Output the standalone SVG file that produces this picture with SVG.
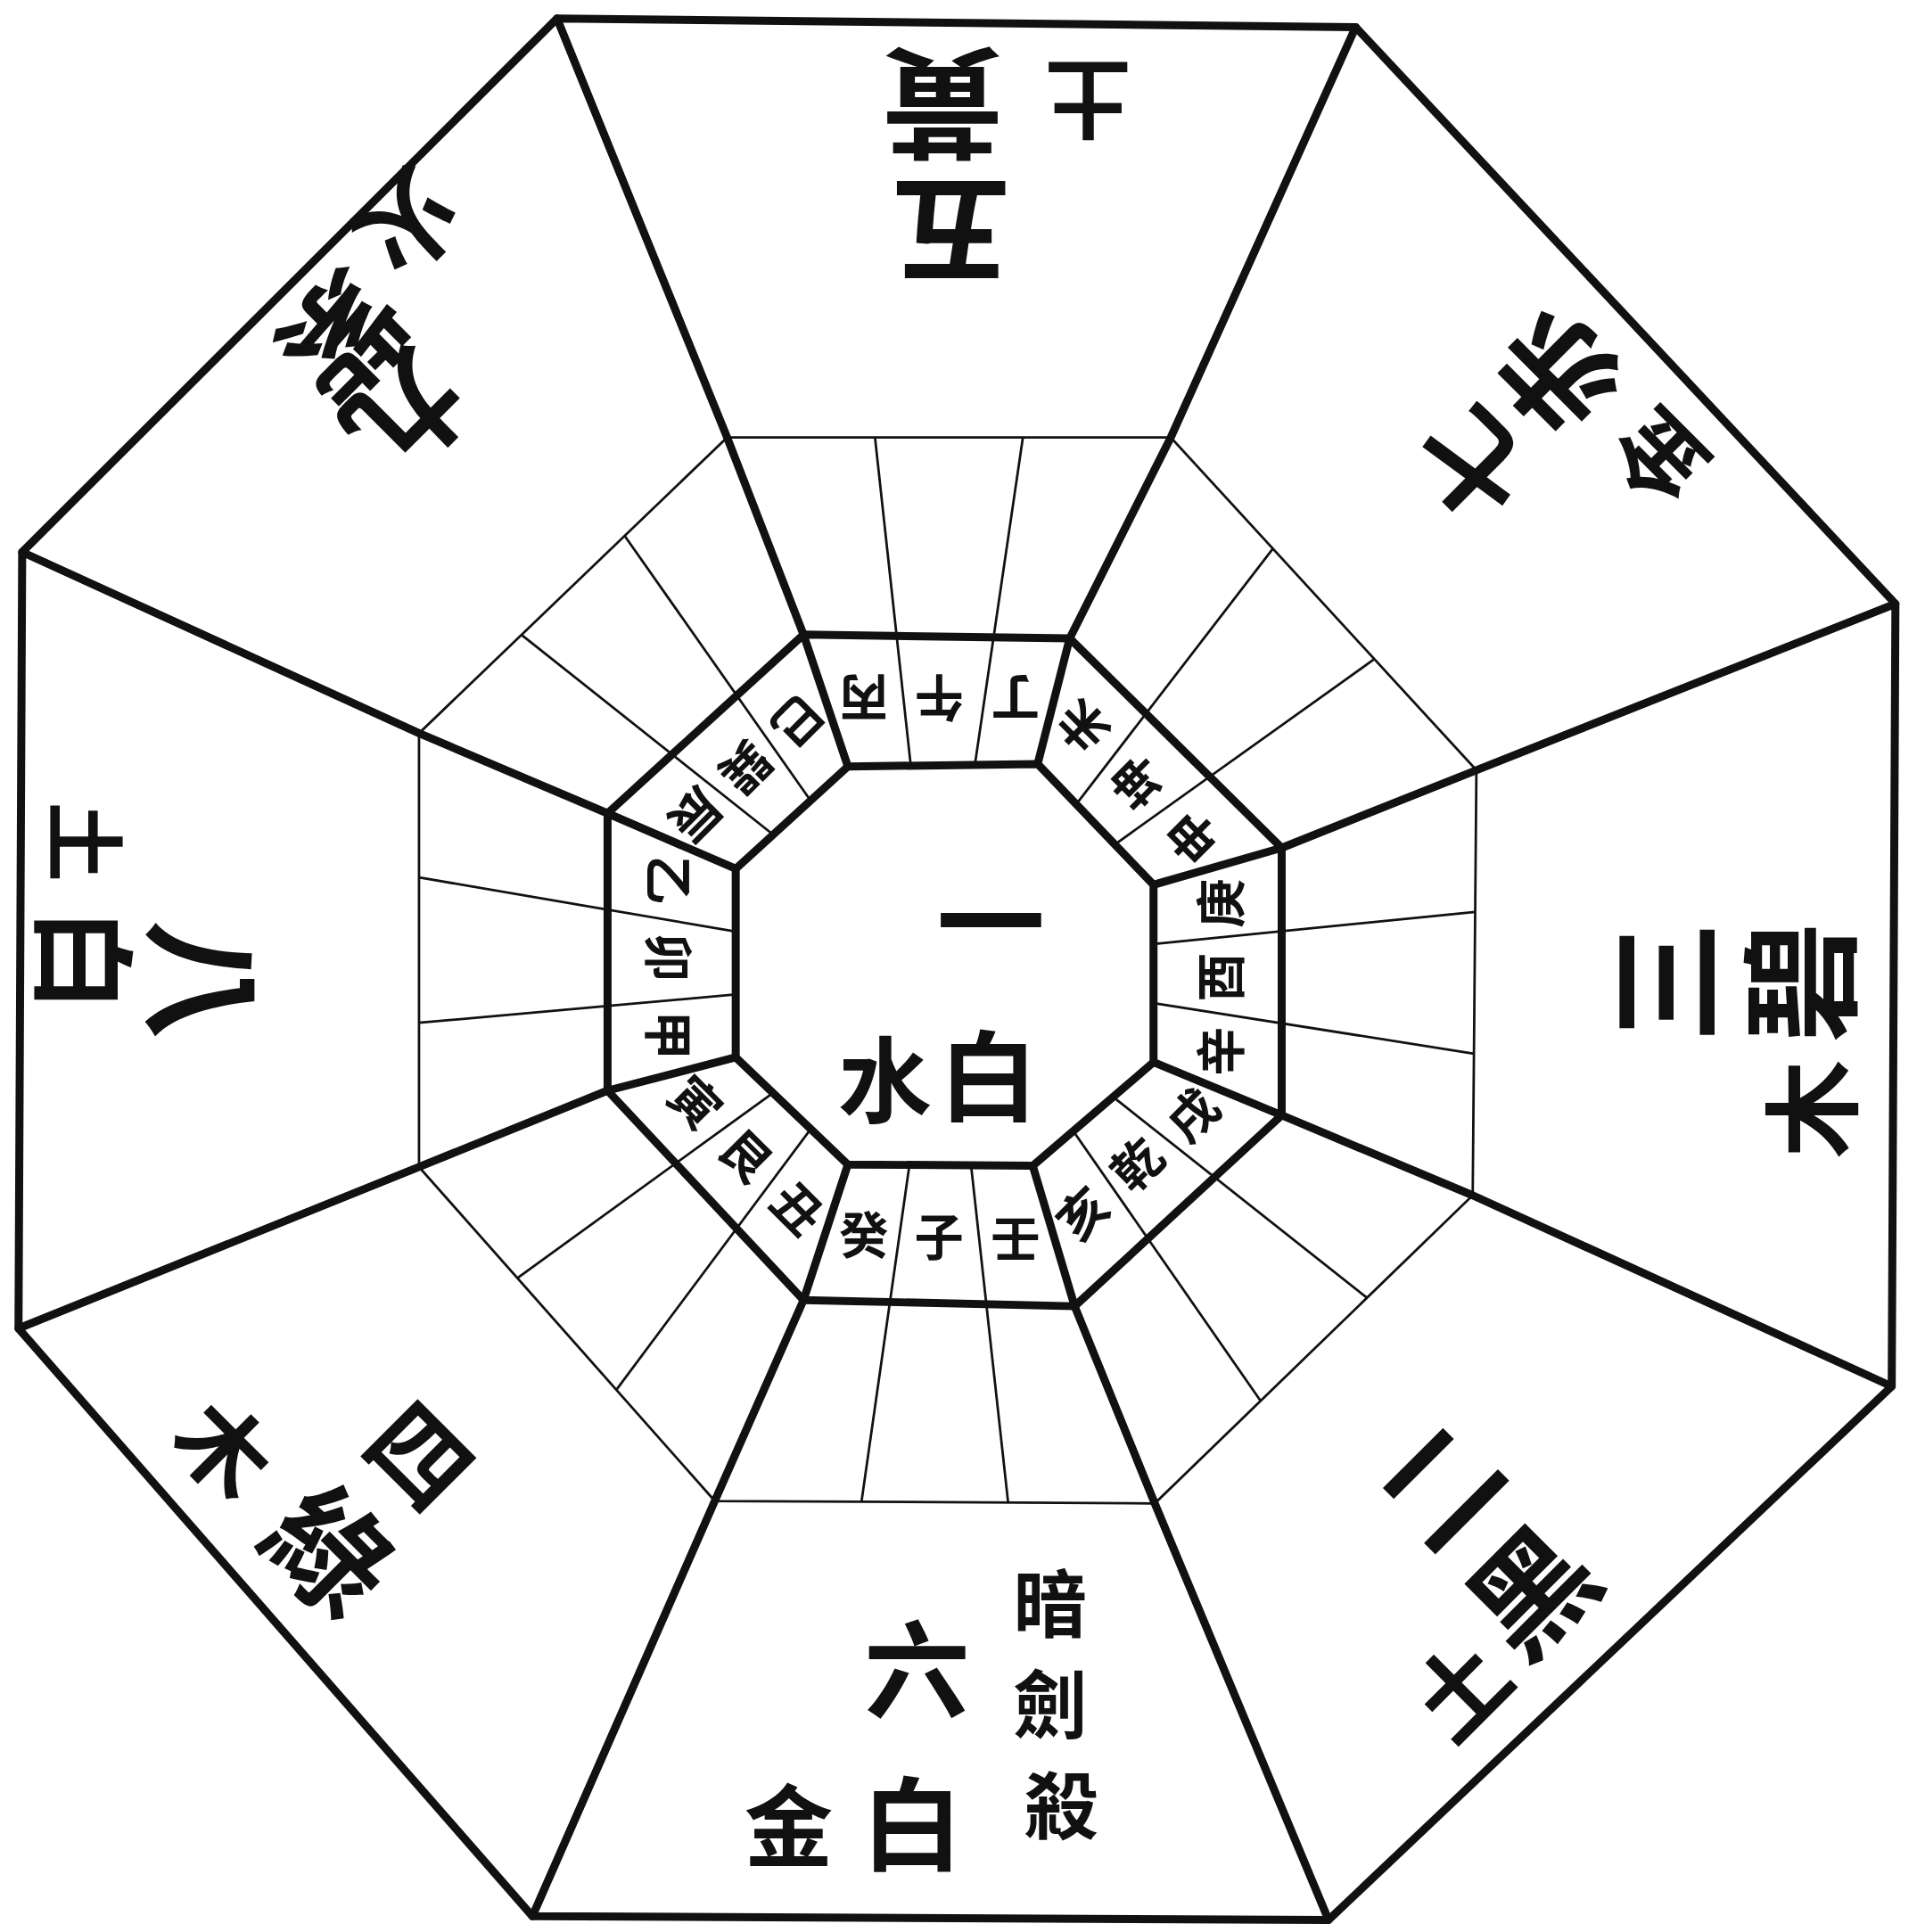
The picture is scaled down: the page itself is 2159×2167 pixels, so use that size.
<svg xmlns="http://www.w3.org/2000/svg" width="2159" height="2167" viewBox="0 0 2159 2167">
<style>
.thick{stroke:#111;stroke-width:6.5;fill:none;stroke-linejoin:round;stroke-linecap:round}
.thin{stroke:#111;stroke-width:2;fill:none}
.t{font-family:"Noto Sans CJK TC","Noto Sans CJK JP",sans-serif;font-weight:700;fill:#111;text-anchor:middle;dominant-baseline:central}
.r{font-size:40px}
</style>
<rect width="2159" height="2167" fill="#fff"/>
<g transform="scale(1.3822)">
<g id="connectors">
<polygon class="thick" points="452,15 1100,22 1538,490 1535,1125 1078,1558 432,1555 15,1078 18,448"/>
<polygon class="thin" points="590,355 950,355 1198,625 1195,970 937,1220 580,1218 340,947 340,595"/>
<g class="thin">
<line x1="739" y1="621" x2="710" y2="355"/><line x1="791" y1="621" x2="830" y2="355"/>
<line x1="873" y1="653" x2="1033" y2="445"/><line x1="905" y1="685" x2="1115" y2="535"/>
<line x1="936" y1="766" x2="1197" y2="740"/><line x1="936" y1="814" x2="1196" y2="855"/>
<line x1="903" y1="890" x2="1109" y2="1053"/><line x1="871" y1="918" x2="1023" y2="1137"/>
<line x1="788" y1="946" x2="818" y2="1219"/><line x1="738" y1="945" x2="699" y2="1219"/>
<line x1="658" y1="916" x2="500" y2="1128"/><line x1="627" y1="887" x2="420" y2="1037"/>
<line x1="597" y1="807" x2="340" y2="830"/><line x1="597" y1="756" x2="340" y2="712"/>
<line x1="627" y1="677" x2="423" y2="515"/><line x1="658" y1="650" x2="507" y2="435"/>
</g>
<polygon class="thick" points="652,515 868,518 1040,688 1040,905 872,1060 652,1055 493,885 493,660"/>
<polygon class="thick" points="688,622 842,620 936,718 936,862 838,946 688,945 597,858 597,705"/>
<g class="thick">
<polyline points="452,15 590,355 652,515 688,622"/>
<polyline points="1100,22 950,355 868,518 842,620"/>
<polyline points="1538,490 1198,625 1040,688 936,718"/>
<polyline points="1535,1125 1195,970 1040,905 936,862"/>
<polyline points="1078,1558 937,1220 872,1060 838,946"/>
<polyline points="432,1555 580,1218 652,1055 688,945"/>
<polyline points="15,1078 340,947 493,885 597,858"/>
<polyline points="18,448 340,595 493,660 597,705"/>
</g>
</g>
<g id="ring" class="t r">
<text transform="translate(701,569) rotate(180)">丙</text>
<text transform="translate(762,569) rotate(180)">午</text>
<text transform="translate(824,569) rotate(180)">丁</text>
<text transform="translate(877,591) rotate(-135)">未</text>
<text transform="translate(921,636) rotate(-135)">坤</text>
<text transform="translate(966,681) rotate(-135)">申</text>
<text transform="translate(988,733) rotate(-90)">庚</text>
<text transform="translate(988,793) rotate(-90)">酉</text>
<text transform="translate(988,853) rotate(-90)">辛</text>
<text transform="translate(966,903) rotate(-45)">戌</text>
<text transform="translate(921,943) rotate(-45)">乾</text>
<text transform="translate(877,983) rotate(-45)">亥</text>
<text transform="translate(824,1002)">壬</text>
<text transform="translate(762,1001)">子</text>
<text transform="translate(701,1000)">癸</text>
<text transform="translate(649,979) rotate(45)">丑</text>
<text transform="translate(607,936) rotate(45)">艮</text>
<text transform="translate(566,893) rotate(45)">寅</text>
<text transform="translate(545,840) rotate(90)">甲</text>
<text transform="translate(545,777) rotate(90)">卯</text>
<text transform="translate(545,714) rotate(90)">乙</text>
<text transform="translate(566,663) rotate(135)">辰</text>
<text transform="translate(607,625) rotate(135)">巽</text>
<text transform="translate(649,587) rotate(135)">巳</text>
</g>
<g id="center" class="t">
<text transform="translate(804,742)" font-size="88">一</text>
<text transform="translate(802,869)" font-size="80">白</text>
<text transform="translate(718,872)" font-size="76">水</text>
</g>
<g id="sector-top" class="t">
<text transform="translate(765,90) rotate(180)" font-size="98">黃</text>
<text transform="translate(772,194) rotate(180)" font-size="98">五</text>
<text transform="translate(883,85) rotate(180)" font-size="70">土</text>
</g>
<g id="sector-upper-right" class="t">
<text transform="translate(1192,379) rotate(-135)" font-size="90">七</text>
<text transform="translate(1260,306) rotate(-135)" font-size="95">赤</text>
<text transform="translate(1344,374) rotate(-135)" font-size="72">金</text>
</g>
<g id="sector-right" class="t">
<text transform="translate(1346,797) rotate(-90)" font-size="98">三</text>
<text transform="translate(1456,797) rotate(-90)" font-size="98">碧</text>
<text transform="translate(1466,900) rotate(-90)" font-size="80">木</text>
</g>
<g id="sector-lower-right" class="t">
<text transform="translate(1165,1202) rotate(-45)" font-size="95">二</text>
<text transform="translate(1239,1287) rotate(-45)" font-size="98">黑</text>
<text transform="translate(1182,1368) rotate(-45)" font-size="75">土</text>
</g>
<g id="sector-bottom" class="t">
<text transform="translate(744,1350)" font-size="86">六</text>
<text transform="translate(740,1476)" font-size="82">白</text>
<text transform="translate(640,1478)" font-size="72">金</text>
<text transform="translate(852,1298)" font-size="60">暗</text>
<text transform="translate(852,1380)" font-size="60">劍</text>
<text transform="translate(861,1462)" font-size="60">殺</text>
</g>
<g id="sector-lower-left" class="t">
<text transform="translate(344,1178) rotate(45)" font-size="80">四</text>
<text transform="translate(272,1255) rotate(45)" font-size="98">綠</text>
<text transform="translate(185,1173) rotate(45)" font-size="75">木</text>
</g>
<g id="sector-left" class="t">
<text transform="translate(170,795) rotate(90)" font-size="98">八</text>
<text transform="translate(72,779) rotate(90)" font-size="85">白</text>
<text transform="translate(72,683) rotate(90)" font-size="65">土</text>
</g>
<g id="sector-upper-left" class="t">
<text transform="translate(334,340) rotate(135)" font-size="93">九</text>
<text transform="translate(282,278) rotate(135)" font-size="98">紫</text>
<text transform="translate(335,185) rotate(135)" font-size="80">火</text>
</g>
</g>
</svg>
